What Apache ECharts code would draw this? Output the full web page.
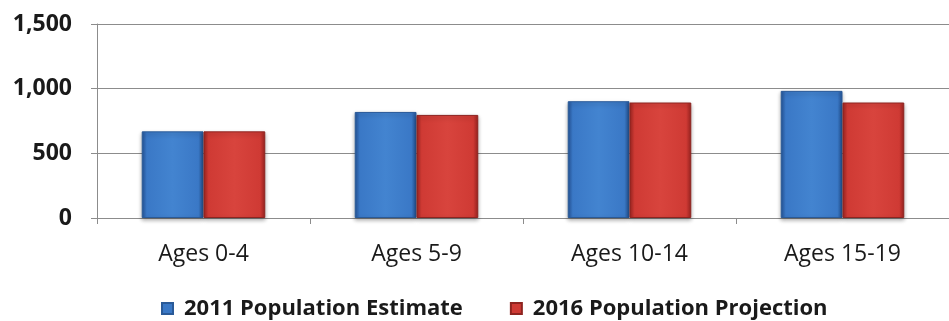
<!DOCTYPE html>
<html><head><meta charset="utf-8">
<script src="https://cdn.jsdelivr.net/npm/echarts@6/dist/echarts.min.js"></script>
<style>html,body{margin:0;padding:0;background:#fff}#c{width:949px;height:321px}</style>
</head><body><div id="c"></div>
<script>
const categories = ['Ages 0-4', 'Ages 5-9', 'Ages 10-14', 'Ages 15-19'];
const estimate2011 = [670, 820, 903, 983];
const projection2016 = [670, 797, 893, 893];
const seriesNames = ['2011 Population Estimate', '2016 Population Projection'];

function grad(light, mid, dark) {
  return new echarts.graphic.LinearGradient(0, 0, 1, 0, [
    {offset: 0, color: dark}, {offset: 0.08, color: mid}, {offset: 0.5, color: light},
    {offset: 0.92, color: mid}, {offset: 1, color: dark}
  ]);
}
const chart = echarts.init(document.getElementById('c'));
const font = '"Open Sans", sans-serif';
chart.setOption({
  animation: false,
  textStyle: {fontFamily: font},
  grid: {left: 97, top: 24, width: 863, height: 194, containLabel: false},
  legend: {
    top: 296, left: 161, padding: 0, itemGap: 47, itemWidth: 11, itemHeight: 11,
    textStyle: {fontSize: 22, lineHeight: 25, color: '#1a1a1a', fontWeight: 'bold', fontFamily: font, padding: [0, 0, 0, 6]},
    data: [
      {name: seriesNames[0], icon: 'rect', itemStyle: {color: '#3a78c6'}},
      {name: seriesNames[1], icon: 'rect', itemStyle: {color: '#cf3a34'}}
    ]
  },
  xAxis: {
    type: 'category', data: categories,
    axisLine: {lineStyle: {color: '#8c8c8c'}},
    axisTick: {show: true, length: 6, lineStyle: {color: '#8c8c8c'}},
    axisLabel: {fontSize: 23, color: '#1a1a1a', margin: 25, fontFamily: font}
  },
  yAxis: {
    type: 'value', min: 0, max: 1500, interval: 500,
    axisLine: {show: true, lineStyle: {color: '#8c8c8c'}},
    axisTick: {show: true, length: 6, lineStyle: {color: '#8c8c8c'}},
    splitLine: {lineStyle: {color: '#8c8c8c'}},
    axisLabel: {fontSize: 23, color: '#1a1a1a', fontWeight: 'bold', margin: 25, fontFamily: font,
      formatter: v => v.toLocaleString('en-US')}
  },
  series: [
    {name: seriesNames[0], type: 'bar', data: estimate2011, barGap: '0%', barCategoryGap: '42%',
      itemStyle: {color: grad('#4384d0', '#3a78c6', '#245396'), borderColor: '#2a5a98', borderWidth: 1,
        shadowColor: 'rgba(0,0,0,0.3)', shadowBlur: 4, shadowOffsetY: 2}},
    {name: seriesNames[1], type: 'bar', data: projection2016,
      itemStyle: {color: grad('#d8443d', '#cf3a34', '#9c2420'), borderColor: '#8e2420', borderWidth: 1,
        shadowColor: 'rgba(0,0,0,0.3)', shadowBlur: 4, shadowOffsetY: 2}}
  ]
});
</script></body></html>
